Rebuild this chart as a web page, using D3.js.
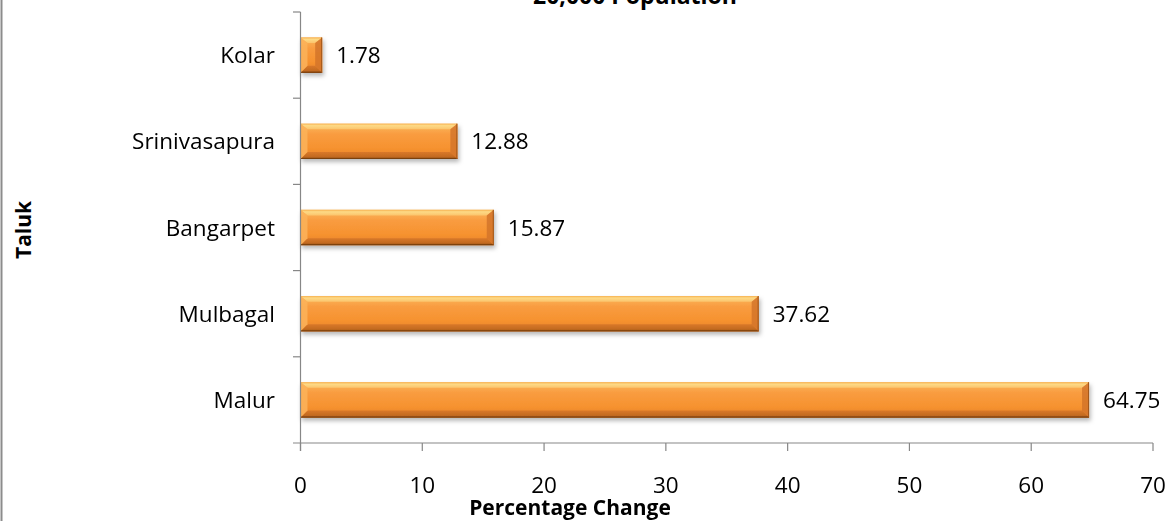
<!DOCTYPE html>
<html><head><meta charset="utf-8">
<script src="https://cdn.jsdelivr.net/npm/d3@7"></script>
<style>body{margin:0;background:#fff;} svg{display:block;} text{font-family:"Open Sans",sans-serif;fill:#000;}</style>
</head><body>
<svg id="c" width="1171" height="521"></svg>
<script>
const categories = ["Kolar","Srinivasapura","Bangarpet","Mulbagal","Malur"];
const values = [1.78, 12.88, 15.87, 37.62, 64.75];
const xTicks = [0,10,20,30,40,50,60,70];
const titleText = "20,000 Population";
const xTitle = "Percentage Change";
const yTitle = "Taluk";

const svg = d3.select("#c");
const x = d3.scaleLinear().domain([0,70]).range([300.5,1153]);
const y = d3.scaleBand().domain(categories).range([12,443]).paddingInner(0.59).paddingOuter(0.295);
const yB = d3.scaleBand().domain(categories).range([12,443]);

const defs = svg.append("defs");
const f = defs.append("filter").attr("id","sh").attr("x","-10%").attr("y","-30%").attr("width","130%").attr("height","190%");
f.append("feDropShadow").attr("dx",1.5).attr("dy",3).attr("stdDeviation",2).attr("flood-color","#000").attr("flood-opacity",0.28);
const g1 = defs.append("linearGradient").attr("id","gc").attr("x1",0).attr("x2",0).attr("y1",0).attr("y2",1);
[[0,"#fbb95e"],[0.3,"#f99c40"],[0.7,"#f6922f"],[1,"#e4802c"]].forEach(s=>g1.append("stop").attr("offset",s[0]).attr("stop-color",s[1]));
const g2 = defs.append("linearGradient").attr("id","gt").attr("x1",0).attr("x2",0).attr("y1",0).attr("y2",1);
[[0,"#f7b150"],[0.35,"#fdda86"],[1,"#fbc46c"]].forEach(s=>g2.append("stop").attr("offset",s[0]).attr("stop-color",s[1]));
const g3 = defs.append("linearGradient").attr("id","gb").attr("x1",0).attr("x2",0).attr("y1",0).attr("y2",1);
[[0,"#d9782a"],[0.7,"#c26a20"],[1,"#8a4812"]].forEach(s=>g3.append("stop").attr("offset",s[0]).attr("stop-color",s[1]));

svg.append("line").attr("x1",1.5).attr("x2",1.5).attr("y1",0).attr("y2",521).attr("stroke","#8c8c8c").attr("stroke-width",2);

svg.append("text").attr("x",635).attr("y",4).attr("text-anchor","middle").attr("font-weight","bold").attr("font-size",23).text(titleText);

const bars = svg.append("g").attr("filter","url(#sh)");
categories.forEach((c,i)=>{
  const x0 = x(0), x1 = x(values[i]), y0 = y(c), y1 = y(c)+y.bandwidth();
  const b = Math.min(7, (x1-x0)/2, (y1-y0)/2);
  const g = bars.append("g");
  g.append("rect").attr("x",x0).attr("y",y0).attr("width",x1-x0).attr("height",y1-y0).attr("fill","url(#gc)");
  g.append("polygon").attr("points",[[x0,y0],[x1,y0],[x1-b,y0+b*0.8],[x0+b,y0+b*0.8]].join(" ")).attr("fill","url(#gt)");
  g.append("polygon").attr("points",[[x0,y1],[x1,y1],[x1-b,y1-b],[x0+b,y1-b]].join(" ")).attr("fill","url(#gb)");
  g.append("polygon").attr("points",[[x0,y0],[x0+b,y0+b*0.8],[x0+b,y1-b],[x0,y1]].join(" ")).attr("fill","#fbb35a").attr("opacity",0.85);
  g.append("polygon").attr("points",[[x1,y0],[x1-b,y0+b*0.8],[x1-b,y1-b],[x1,y1]].join(" ")).attr("fill","#d4742a").attr("opacity",0.85);
  g.append("line").attr("x1",x0).attr("x2",x1).attr("y1",y1-0.5).attr("y2",y1-0.5).attr("stroke","#7a3f0e").attr("stroke-width",1);
  g.append("line").attr("x1",x1-0.5).attr("x2",x1-0.5).attr("y1",y0).attr("y2",y1).attr("stroke","#a0561a").attr("stroke-width",1);
});

const axCol = "#878787";
const ax = svg.append("g").attr("stroke",axCol).attr("stroke-width",1.2).attr("fill","none");
ax.append("line").attr("x1",x(0)).attr("x2",x(0)).attr("y1",12).attr("y2",451);
ax.append("line").attr("x1",293).attr("x2",x(70)).attr("y1",443).attr("y2",443);
categories.forEach(c=>{ ax.append("line").attr("x1",293).attr("x2",x(0)).attr("y1",yB(c)).attr("y2",yB(c)); });
xTicks.forEach(t=>{ ax.append("line").attr("x1",x(t)).attr("x2",x(t)).attr("y1",443).attr("y2",451); });

svg.append("g").selectAll("text").data(xTicks).join("text")
  .attr("x",d=>x(d)).attr("y",493).attr("text-anchor","middle").attr("font-size",22.5).text(d=>d);
svg.append("g").selectAll("text").data(categories).join("text")
  .attr("x",275).attr("y",c=>y(c)+y.bandwidth()/2+8).attr("text-anchor","end").attr("font-size",22.5).text(c=>c);
svg.append("g").selectAll("text").data(categories).join("text")
  .attr("x",(c,i)=>x(values[i])+14).attr("y",c=>y(c)+y.bandwidth()/2+8).attr("font-size",22.5).text((c,i)=>values[i].toFixed(2));

svg.append("text").attr("x",570).attr("y",515).attr("text-anchor","middle").attr("font-weight","bold").attr("font-size",21).text(xTitle);
svg.append("text").attr("transform","translate(31,230) rotate(-90)").attr("text-anchor","middle").attr("font-weight","bold").attr("font-size",21).text(yTitle);
</script>
</body></html>
